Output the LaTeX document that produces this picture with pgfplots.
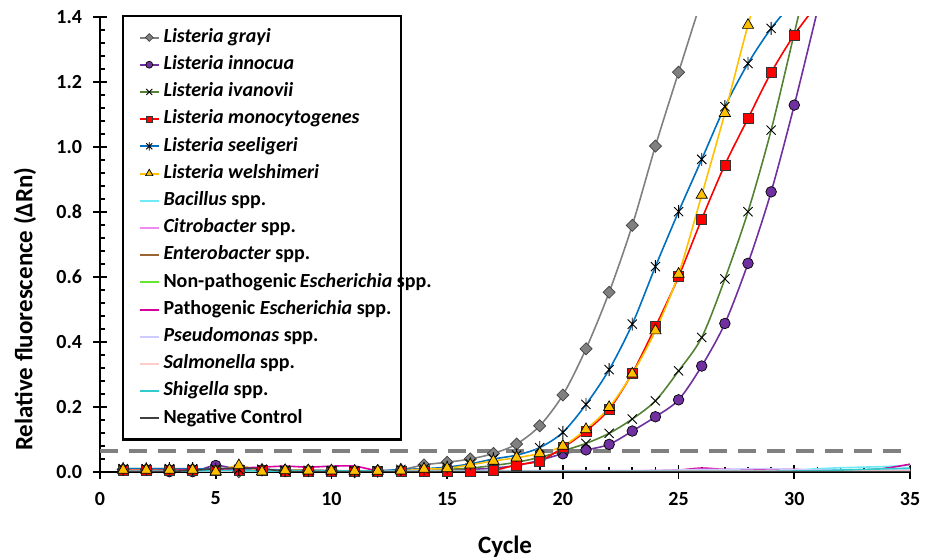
\documentclass[border=0pt]{standalone}
\usepackage{fontspec}
\setmainfont{Carlito}
\usepackage{pgfplots}
\pgfplotsset{compat=1.18}
\usepackage{pgfplotstable}

\definecolor{cgray}{RGB}{128,128,128}
\definecolor{cpurple}{RGB}{112,48,160}
\definecolor{cgreen}{RGB}{84,130,53}
\definecolor{cred}{RGB}{255,0,0}
\definecolor{cblue}{RGB}{0,112,192}
\definecolor{cyellow}{RGB}{255,192,0}
\definecolor{cbac}{RGB}{110,235,245}
\definecolor{ccit}{RGB}{240,140,240}
\definecolor{cent}{RGB}{153,102,51}
\definecolor{cnpe}{RGB}{102,230,51}
\definecolor{cpes}{RGB}{214,0,160}
\definecolor{cpse}{RGB}{204,204,255}
\definecolor{csal}{RGB}{255,204,204}
\definecolor{cshi}{RGB}{51,204,204}
\definecolor{cneg}{RGB}{64,64,64}

\pgfdeclareplotmark{xstar}{%
\pgfpathmoveto{\pgfqpoint{-.7071\pgfplotmarksize}{-.7071\pgfplotmarksize}}%
\pgfpathlineto{\pgfqpoint{.7071\pgfplotmarksize}{.7071\pgfplotmarksize}}%
\pgfpathmoveto{\pgfqpoint{-.7071\pgfplotmarksize}{.7071\pgfplotmarksize}}%
\pgfpathlineto{\pgfqpoint{.7071\pgfplotmarksize}{-.7071\pgfplotmarksize}}%
\pgfpathmoveto{\pgfqpoint{0pt}{-\pgfplotmarksize}}%
\pgfpathlineto{\pgfqpoint{0pt}{\pgfplotmarksize}}%
\pgfusepathqstroke}

\pgfplotstableread{
cyc gra inn iva mon see wel
1 0.008 0.006 0.010 0.004 0.010 0.006
2 0.008 0.005 0.010 0.004 0.010 0.006
3 0.006 0.001 0.010 0.004 0.010 0.006
4 0.008 0.001 0.009 0.004 0.010 0.006
5 0.010 0.020 0.008 0.004 0.008 0.001
6 0.001 0.008 0.006 0.004 0.008 0.020
7 0.006 0.006 0.008 0.004 0.008 0.001
8 0.005 0.004 0.006 0.003 0.004 0.005
9 0.005 0.004 0.005 0.003 0.004 0.004
10 0.004 0.003 0.004 0.003 0.004 0.004
11 0.001 0.002 0.003 0.002 0.003 0.003
12 0.004 0.002 0.003 0.002 0.003 0.003
13 0.007 0.003 0.003 0.002 0.008 0.004
14 0.022 0.003 0.004 0.002 0.010 0.009
15 0.030 0.005 0.008 0.003 0.015 0.011
16 0.040 0.008 0.012 0.003 0.025 0.022
17 0.057 0.012 0.020 0.005 0.040 0.034
18 0.086 0.020 0.030 0.022 0.052 0.044
19 0.142 0.036 0.045 0.034 0.075 0.057
20 0.237 0.056 0.065 0.075 0.122 0.080
21 0.379 0.068 0.088 0.126 0.208 0.131
22 0.553 0.085 0.119 0.193 0.315 0.199
23 0.759 0.126 0.163 0.304 0.455 0.302
24 1.003 0.170 0.219 0.447 0.632 0.435
25 1.230 0.222 0.311 0.601 0.801 0.609
26 1.455 0.326 0.414 0.778 0.962 0.852
27 nan 0.457 0.594 0.945 1.124 1.104
28 nan 0.642 0.801 1.088 1.257 1.375
29 nan 0.862 1.052 1.229 1.365 1.620
30 nan 1.129 1.350 1.345 1.450 nan
31 nan 1.420 1.650 1.440 nan nan
}\listeria

\pgfplotstableread{
cyc bac cit ent npe pes pse sal shi neg
1 0.003 0.004 0.005 0.002 0.005 0.003 0.002 0.002 0.002
2 0.003 0.004 0.004 0.002 0.005 0.003 0.002 0.002 0.002
3 0.003 0.004 0.008 0.002 0.005 0.003 0.002 0.002 0.002
4 0.003 0.004 0.006 0.002 0.006 0.003 0.002 0.003 0.005
5 0.003 0.004 0.004 0.002 0.008 0.003 0.002 0.004 0.010
6 0.004 0.005 0.003 0.003 0.012 0.003 0.002 0.004 0.012
7 0.004 0.005 0.003 0.003 0.015 0.003 0.002 0.003 0.010
8 0.004 0.004 0.003 0.002 0.018 0.003 0.002 0.003 0.002
9 0.003 0.004 0.003 0.002 0.015 0.003 0.002 0.003 0.001
10 0.003 0.004 0.003 0.002 0.018 0.003 0.002 0.003 0.001
11 0.003 0.004 0.003 0.002 0.018 0.003 0.002 0.003 0.001
12 0.003 0.004 0.003 0.002 0.004 0.003 0.002 0.003 0.001
13 0.003 0.004 0.003 0.002 0.003 0.003 0.002 0.002 0.001
14 0.003 0.004 0.003 0.002 0.003 0.003 0.002 0.002 0.001
15 0.003 0.004 0.003 0.002 0.003 0.003 0.002 0.002 0.001
16 0.003 0.004 0.003 0.002 0.003 0.003 0.002 0.002 0.001
17 0.003 0.004 0.003 0.002 0.003 0.003 0.002 0.002 0.001
18 0.003 0.004 0.003 0.002 0.003 0.003 0.002 0.002 0.001
19 0.003 0.004 0.003 0.002 0.003 0.003 0.002 0.002 0.001
20 0.003 0.004 0.003 0.002 0.003 0.003 0.002 0.002 0.001
21 0.003 0.004 0.003 0.002 0.003 0.004 0.002 0.002 0.001
22 0.003 0.004 0.003 0.002 0.003 0.004 0.002 0.002 0.001
23 0.003 0.004 0.003 0.002 0.003 0.004 0.002 0.002 0.001
24 0.003 0.004 0.003 0.002 0.004 0.005 0.002 0.002 0.001
25 0.004 0.005 0.003 0.002 0.006 0.006 0.003 0.002 0.001
26 0.004 0.006 0.003 0.002 0.012 0.008 0.003 0.002 0.001
27 0.004 0.006 0.003 0.002 0.008 0.008 0.003 0.002 0.001
28 0.004 0.008 0.003 0.002 0.007 0.010 0.003 0.002 0.001
29 0.005 0.008 0.003 0.002 0.007 0.010 0.003 0.002 0.001
30 0.006 0.006 0.003 0.002 0.008 0.008 0.003 0.003 0.001
31 0.010 0.005 0.003 0.002 0.004 0.006 0.003 0.004 0.001
32 0.013 0.005 0.003 0.003 0.004 0.006 0.003 0.006 0.001
33 0.015 0.005 0.003 0.004 0.006 0.006 0.003 0.008 0.001
34 0.017 0.005 0.003 0.006 0.012 0.006 0.003 0.010 0.001
35 0.021 0.006 0.003 0.009 0.024 0.006 0.003 0.012 0.001
}\others

\begin{document}
\begin{tikzpicture}
\useasboundingbox (0,0) rectangle (925bp,559bp);
\begin{axis}[
  at={(100bp,87bp)}, anchor=south west,
  scale only axis, width=810bp, height=455bp,
  xmin=0, xmax=35, ymin=0, ymax=1.4,
  axis x line=bottom, axis y line=left,
  axis line style={-, line width=2.2bp, black},
  xtick={0,5,...,35}, ytick={0,0.2,0.4,0.6,0.8,1.0,1.2,1.4},
  minor x tick num=4, minor y tick num=4,
  tick align=center, major tick length=13bp, minor tick length=5bp,
  tick style={black, line width=1.8bp},
  minor x tick style={yshift=2.5bp},
  minor y tick style={xshift=2.5bp},
  yticklabel style={/pgf/number format/.cd, fixed, fixed zerofill, precision=1},
  /pgf/number format/assume math mode=true,
  tick label style={font=\fontsize{20bp}{24bp}\selectfont\bfseries},
  xticklabel shift=10bp,
  yticklabel shift=8bp,
  xlabel={Cycle}, ylabel={Relative fluorescence (ΔRn)},
  label style={font=\fontsize{25bp}{30bp}\selectfont\bfseries},
  xlabel style={at={(axis description cs:0.5,-0.165)}, anchor=center},
  ylabel style={at={(axis description cs:-0.0926,0.358)}, anchor=center},
  legend cell align=left,
  legend style={at={(axis description cs:0.027,1.004)}, anchor=north west,
    draw=black, line width=2.2bp, inner xsep=9bp, inner ysep=12bp,
    font=\fontsize{20bp}{24bp}\selectfont\bfseries, row sep=8.7bp,
    nodes={inner sep=0pt, text height=14bp, text depth=4.5bp}},
  legend image code/.code={\path (-7bp,0bp);
    \draw[mark repeat=2,mark phase=2,#1,line width=2bp,every mark/.append style={scale=0.65}]
      plot coordinates {(0bp,0bp) (9.5bp,0bp) (19bp,0bp)};
    \path (23bp,0bp);},
  every axis plot/.append style={line width=1.6bp},
]
\addplot[smooth, color=cgray, mark=square*, mark size=4.3bp,
  mark options={rotate=45, fill=cgray, draw=black!75, line width=0.7bp}]
  table[x=cyc, y=gra] {\listeria};
\addlegendentry{\textit{Listeria grayi}}
\addplot[smooth, color=cpurple, mark=*, mark size=5.3bp,
  mark options={fill=cpurple, draw=black, line width=0.7bp}]
  table[x=cyc, y=inn] {\listeria};
\addlegendentry{\textit{Listeria innocua}}
\addplot[smooth, color=cgreen, mark=x, mark size=6.5bp,
  mark options={draw=black, line width=0.9bp}]
  table[x=cyc, y=iva] {\listeria};
\addlegendentry{\textit{Listeria ivanovii}}
\addplot[smooth, color=cred, mark=square*, mark size=5bp,
  mark options={fill=cred, draw=black!80, line width=0.7bp}]
  table[x=cyc, y=mon] {\listeria};
\addlegendentry{\textit{Listeria monocytogenes}}
\addplot[smooth, color=cblue, mark=xstar, mark size=6.5bp,
  mark options={draw=black, line width=0.9bp}]
  table[x=cyc, y=see] {\listeria};
\addlegendentry{\textit{Listeria seeligeri}}
\addplot[smooth, color=cyellow, mark=triangle*, mark size=6.5bp,
  mark options={fill=cyellow, draw=black, line width=0.7bp}]
  table[x=cyc, y=wel] {\listeria};
\addlegendentry{\textit{Listeria welshimeri}}
\addplot[smooth, color=cbac, no marks] table[x=cyc, y=bac] {\others};
\addlegendentry{\textit{Bacillus} spp.}
\addplot[smooth, color=ccit, no marks] table[x=cyc, y=cit] {\others};
\addlegendentry{\textit{Citrobacter} spp.}
\addplot[smooth, color=cent, no marks] table[x=cyc, y=ent] {\others};
\addlegendentry{\textit{Enterobacter} spp.}
\addplot[smooth, color=cnpe, no marks] table[x=cyc, y=npe] {\others};
\addlegendentry{Non-pathogenic\,\textit{Escherichia}\rlap{ spp.}}
\addplot[smooth, color=cpes, no marks] table[x=cyc, y=pes] {\others};
\addlegendentry{Pathogenic \textit{Escherichia} spp.}
\addplot[smooth, color=cpse, no marks] table[x=cyc, y=pse] {\others};
\addlegendentry{\textit{Pseudomonas} spp.}
\addplot[smooth, color=csal, no marks] table[x=cyc, y=sal] {\others};
\addlegendentry{\textit{Salmonella} spp.}
\addplot[smooth, color=cshi, no marks] table[x=cyc, y=shi] {\others};
\addlegendentry{\textit{Shigella} spp.}
\addplot[smooth, color=cneg, no marks] table[x=cyc, y=neg] {\others};
\addlegendentry{Negative Control}
\addplot[forget plot, color=cgray, line width=4bp, dash pattern=on 18bp off 11bp]
  coordinates {(0,0.065) (35,0.065)};
\end{axis}
\end{tikzpicture}
\end{document}
